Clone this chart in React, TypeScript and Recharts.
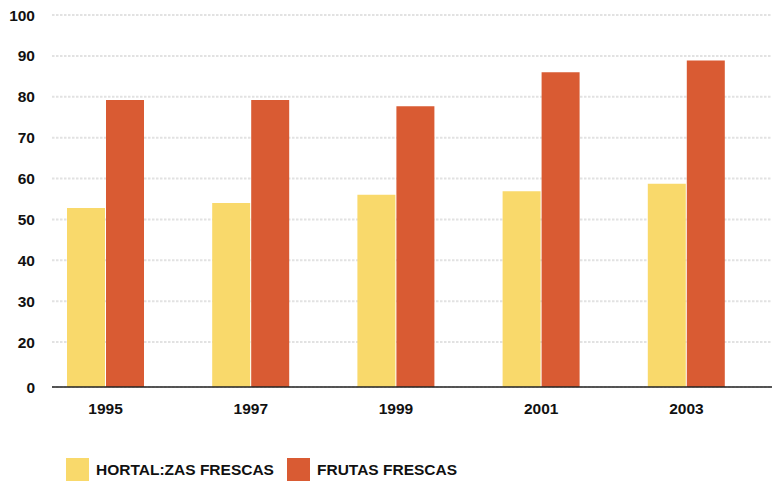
import React from 'react';
import { BarChart, Bar, XAxis, YAxis, CartesianGrid } from 'recharts';

const years = ['1995', '1997', '1999', '2001', '2003'];
const hortalizas = [52.8, 54.0, 56.0, 56.9, 58.7];
const frutas = [79.2, 79.2, 77.7, 86.0, 88.9];
const AXIS_FLOOR = 9;
const yTicks = [AXIS_FLOOR, 20, 30, 40, 50, 60, 70, 80, 90, 100];
const seriesNames = ['HORTAL:ZAS FRESCAS', 'FRUTAS FRESCAS'];
const colors = ['#F9D96B', '#D95B33'];

const data = years.map((y, i) => ({ year: y, h: hortalizas[i], f: frutas[i] }));

const font = '"Liberation Sans", Arial, Helvetica, sans-serif';

const LegendContent = () => (
  <div style={{ position: 'absolute', left: 66, top: 458, display: 'flex', alignItems: 'center', fontFamily: font, fontWeight: 700, fontSize: 15.5, color: '#111', lineHeight: '23px' }}>
    {seriesNames.map((n, i) => (
      <div key={n} style={{ display: 'flex', alignItems: 'center', marginRight: 13 }}>
        <div style={{ width: 23, height: 23, background: colors[i], marginRight: 7 }} />
        <span>{n}</span>
      </div>
    ))}
  </div>
);

export default function App() {
  return (
    <div style={{ position: 'absolute', left: 0, top: 0, width: 772, height: 483, background: '#fff' }}>
      <BarChart width={772} height={483} data={data} margin={{ top: 15, right: 0, left: 0, bottom: 66 }} barGap={1} barSize={38}>
        <CartesianGrid vertical={false} stroke="#e2e2e2" strokeWidth={2} strokeDasharray="2.5 1.5" />
        <XAxis
          dataKey="year"
          height={30}
          tickLine={false}
          tickSize={0}
          tickMargin={16}
          padding={{ left: -19, right: 13 }}
          axisLine={{ stroke: '#222', strokeWidth: 1.5 }}
          tick={{ fill: '#111', fontFamily: font, fontWeight: 700, fontSize: 15.5 }}
        />
        <YAxis
          width={52}
          domain={[AXIS_FLOOR, 100]}
          ticks={yTicks}
          interval={0}
          axisLine={false}
          tickLine={false}
          tickSize={0}
          tickMargin={17}
          tickFormatter={(v) => (v === AXIS_FLOOR ? '0' : String(v))}
          tick={{ fill: '#111', fontFamily: font, fontWeight: 700, fontSize: 15.5 }}
        />
        <Bar dataKey="h" name={seriesNames[0]} fill={colors[0]} isAnimationActive={false} />
        <Bar dataKey="f" name={seriesNames[1]} fill={colors[1]} isAnimationActive={false} />
      </BarChart>
      <LegendContent />
    </div>
  );
}
